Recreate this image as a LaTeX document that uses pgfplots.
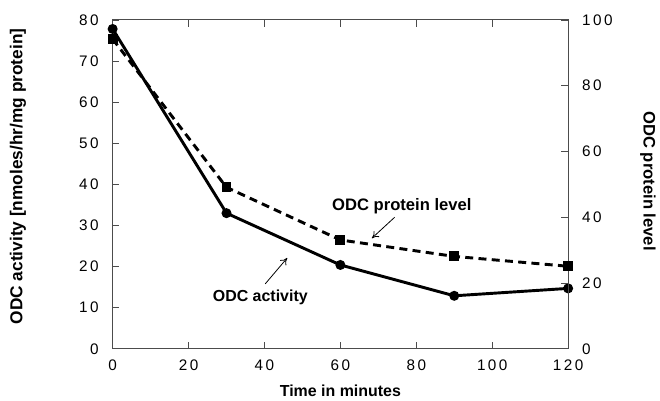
\documentclass[border=0pt]{standalone}
\usepackage{fontspec}
\setmainfont{Liberation Sans}
\newfontfamily\tickfont[LetterSpace=16]{Liberation Sans}
\usepackage{pgfplots}
\usetikzlibrary{arrows.meta}
\pgfplotsset{compat=1.18}
\begin{document}
\begin{tikzpicture}
\pgfplotsset{
  common/.style={
    scale only axis, width=342.75pt, height=247.5pt,
    xmin=0, xmax=120,
    tick align=inside, major tick length=5pt,
    tick style={gray!60!black, line width=0.6pt},
    axis line style={gray!60!black, line width=0.7pt},
    ticklabel style={font=\tickfont\fontsize{11.5}{13}\selectfont},
    /pgf/number format/assume math mode=true,
    label style={font=\bfseries\fontsize{12}{14}\selectfont},
    clip=false,
  }
}
\begin{axis}[common,
  ymin=0, ymax=80,
  xtick={0,20,...,120}, ytick={0,10,...,80},
  xtick pos=both, ytick pos=left,
  xticklabel style={yshift=-5pt},
  yticklabel style={xshift=-7pt},
  xlabel={Time in minutes},
  ylabel={ODC activity [nmoles/hr/mg protein]},
  xlabel style={at={(rel axis cs:0.5,-0.127)}, anchor=center},
  ylabel style={at={(rel axis cs:-0.208,0.524)}, anchor=center, font=\bfseries\fontsize{13}{15}\selectfont},
]
\addplot[black, line width=2.2pt, mark=*, mark size=2.6pt]
  coordinates {(0,77.8)(30,33.0)(60,20.4)(90,12.9)(120,14.7)};
\node[font=\bfseries\fontsize{12}{14}\selectfont] at (axis cs:38.9,12.4) {ODC activity};
\draw[-{To[length=5pt,width=6pt]}, line width=0.6pt] (axis cs:40.2,15.8) -- (axis cs:46.0,22.1);
\node[font=\bfseries\fontsize{12.5}{15}\selectfont] at (axis cs:76.2,34.7) {ODC protein level};
\draw[-{To[length=5pt,width=6pt]}, line width=0.6pt] (axis cs:74.3,32.0) -- (axis cs:68.3,26.9);
\path (rel axis cs:-0.2473,-0.1485) rectangle (rel axis cs:1.1969,1.0606);
\end{axis}
\begin{axis}[common,
  ymin=0, ymax=100,
  axis x line=none, axis y line*=right,
  ytick={0,20,...,100},
  yticklabel style={xshift=7pt},
  ylabel={ODC protein level},
  ylabel style={at={(rel axis cs:1.175,0.51)}, anchor=center, rotate=180, font=\bfseries\fontsize{12.5}{15}\selectfont},
]
\addplot[black, line width=2.2pt, dash pattern=on 6pt off 4pt, mark=square*, mark size=2.6pt, mark options={solid}]
  coordinates {(0,94.2)(30,49.1)(60,33.1)(90,28.1)(120,25.1)};
\end{axis}
\end{tikzpicture}
\end{document}
